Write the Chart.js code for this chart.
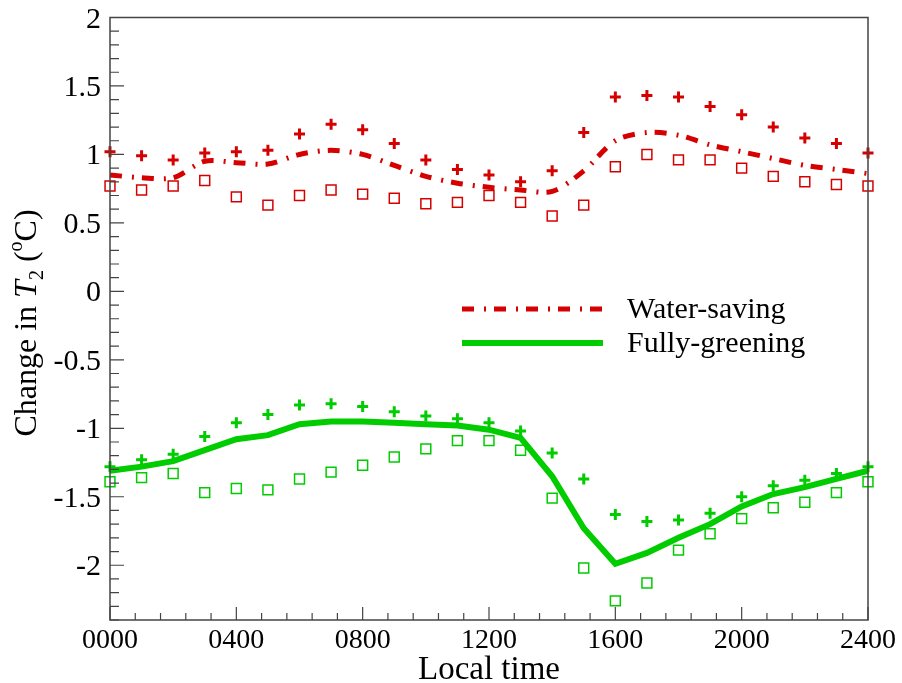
<!DOCTYPE html>
<html>
<head>
<meta charset="utf-8">
<script src="https://cdn.jsdelivr.net/npm/chart.js@4.4.1/dist/chart.umd.min.js"></script>
<style>
	body { margin: 0; background: #fff; }
	canvas { display: block; }
</style>
</head>
<body>
<canvas id="chart" width="902" height="683"></canvas>
<script>
// hourly output, local time
const hours = [0, 100, 200, 300, 400, 500, 600, 700, 800, 900, 1000, 1100, 1200,
	1300, 1400, 1500, 1600, 1700, 1800, 1900, 2000, 2100, 2200, 2300, 2400];

// water-saving scenario (mean line, upper and lower runs)
const waterMean = [0.85, 0.83, 0.83, 0.95, 0.94, 0.93, 1.00, 1.03, 1.00, 0.92, 0.84, 0.79, 0.76,
	0.74, 0.73, 0.88, 1.10, 1.16, 1.14, 1.07, 1.02, 0.97, 0.92, 0.89, 0.86];
const waterPlus = [1.02, 0.99, 0.96, 1.01, 1.02, 1.03, 1.15, 1.22, 1.18, 1.08, 0.96, 0.89, 0.85,
	0.80, 0.88, 1.16, 1.42, 1.43, 1.42, 1.35, 1.29, 1.20, 1.12, 1.08, 1.01];
const waterSquare = [0.77, 0.74, 0.77, 0.81, 0.69, 0.63, 0.70, 0.74, 0.71, 0.68, 0.64, 0.65, 0.70,
	0.65, 0.55, 0.63, 0.91, 1.00, 0.96, 0.96, 0.90, 0.84, 0.80, 0.78, 0.77];

// fully-greening scenario
const greenMean = [-1.31, -1.28, -1.24, -1.16, -1.08, -1.05, -0.97, -0.95, -0.95, -0.96, -0.97, -0.98, -1.01,
	-1.07, -1.35, -1.73, -1.99, -1.91, -1.80, -1.70, -1.57, -1.48, -1.43, -1.37, -1.31];
const greenPlus = [-1.28, -1.23, -1.19, -1.06, -0.96, -0.90, -0.83, -0.82, -0.84, -0.88, -0.91, -0.93, -0.96,
	-1.02, -1.18, -1.37, -1.63, -1.68, -1.67, -1.62, -1.50, -1.42, -1.38, -1.33, -1.28];
const greenSquare = [-1.39, -1.36, -1.33, -1.47, -1.44, -1.45, -1.37, -1.32, -1.27, -1.21, -1.15, -1.09, -1.09,
	-1.16, -1.51, -2.02, -2.26, -2.13, -1.89, -1.77, -1.66, -1.58, -1.54, -1.47, -1.39];

const xTicks = [0, 400, 800, 1200, 1600, 2000, 2400];
const xTickLabels = ['0000', '0400', '0800', '1200', '1600', '2000', '2400'];
const yTicks = [2, 1.5, 1, 0.5, 0, -0.5, -1, -1.5, -2];
const yTickLabels = ['2', '1.5', '1', '0.5', '0', '-0.5', '-1', '-1.5', '-2'];

const RED = '#d50000';
const GREEN = '#00cc00';
const SERIF = '"Liberation Serif", "Times New Roman", serif';

function pts(values) {
	return values.map((v, i) => ({x: hours[i], y: v}));
}

// frame with inward ticks, tick labels, titles and legend
const frame = {
	id: 'frame',
	afterDraw(chart) {
		const ctx = chart.ctx;
		const xs = chart.scales.x;
		const ys = chart.scales.y;
		const a = chart.chartArea;

		ctx.save();
		ctx.strokeStyle = '#444';
		ctx.lineWidth = 1.5;
		ctx.strokeRect(a.left, a.top, a.right - a.left, a.bottom - a.top);

		// y ticks every 0.1, major every 0.5
		ctx.lineWidth = 1.2;
		ctx.beginPath();
		for(let k = -24; k <= 20; k++)
		{
			const py = ys.getPixelForValue(k / 10);
			const len = (k % 5 === 0) ? 14 : 9;
			ctx.moveTo(a.left, py);
			ctx.lineTo(a.left + len, py);
		}
		// x ticks every 80, major every 400
		for(let v = 0; v <= 2400; v += 80)
		{
			const px = xs.getPixelForValue(v);
			const len = (v % 400 === 0) ? 13 : 7;
			ctx.moveTo(px, a.bottom);
			ctx.lineTo(px, a.bottom - len);
		}
		ctx.stroke();

		ctx.fillStyle = '#000';
		ctx.font = '30px ' + SERIF;
		ctx.textAlign = 'right';
		ctx.textBaseline = 'alphabetic';
		yTicks.forEach((v, i) => {
			ctx.fillText(yTickLabels[i], a.left - 9, ys.getPixelForValue(v) + 10);
		});
		ctx.font = '28px ' + SERIF;
		ctx.textAlign = 'center';
		xTicks.forEach((v, i) => {
			ctx.fillText(xTickLabels[i], xs.getPixelForValue(v), 648);
		});

		// x title
		ctx.font = '33px ' + SERIF;
		ctx.fillText('Local time', (a.left + a.right) / 2, 679);

		// y title: Change in T2 (oC)
		const parts = [
			{t: 'Change in ', f: '32px ' + SERIF, dy: 0},
			{t: 'T', f: 'italic 32px ' + SERIF, dy: 0},
			{t: '2', f: '20px ' + SERIF, dy: 7},
			{t: ' (', f: '32px ' + SERIF, dy: 0},
			{t: 'o', f: '20px ' + SERIF, dy: -14},
			{t: 'C)', f: '32px ' + SERIF, dy: 0},
		];
		let total = 0;
		parts.forEach(p => {
			ctx.font = p.f;
			p.w = ctx.measureText(p.t).width;
			total += p.w;
		});
		ctx.translate(36, 323);
		ctx.rotate(-Math.PI / 2);
		ctx.textAlign = 'left';
		let cx = -total / 2;
		parts.forEach(p => {
			ctx.font = p.f;
			ctx.fillText(p.t, cx, p.dy);
			cx += p.w;
		});
		ctx.restore();

		// legend
		ctx.save();
		ctx.lineCap = 'butt';
		ctx.strokeStyle = RED;
		ctx.lineWidth = 5;
		ctx.setLineDash([12, 10, 2, 8]);
		ctx.beginPath();
		ctx.moveTo(462, 309);
		ctx.lineTo(602, 309);
		ctx.stroke();
		ctx.setLineDash([]);
		ctx.strokeStyle = GREEN;
		ctx.lineWidth = 6;
		ctx.beginPath();
		ctx.moveTo(462, 343);
		ctx.lineTo(603, 343);
		ctx.stroke();
		ctx.fillStyle = '#000';
		ctx.font = '30px ' + SERIF;
		ctx.textAlign = 'left';
		ctx.fillText('Water-saving', 627, 318);
		ctx.fillText('Fully-greening', 627, 352);
		ctx.restore();
	}
};

const markerSet = (data, color, style) => ({
	type: 'line',
	data: pts(data),
	showLine: false,
	pointStyle: style,
	pointRadius: style === 'cross' ? 5.5 : 7,
	pointBorderWidth: style === 'cross' ? 3 : 1.5,
	pointBorderColor: color,
	pointBackgroundColor: 'rgba(0,0,0,0)',
	borderColor: color,
	clip: false,
});

new Chart(document.getElementById('chart'), {
	type: 'line',
	data: {
		datasets: [
			{
				label: 'Water-saving',
				data: pts(waterMean),
				borderColor: RED,
				borderWidth: 5,
				borderDash: [12, 10, 2, 8],
				borderCapStyle: 'butt',
				pointRadius: 0,
				tension: 0.3,
				clip: false,
			},
			markerSet(waterPlus, RED, 'cross'),
			markerSet(waterSquare, RED, 'rect'),
			{
				label: 'Fully-greening',
				data: pts(greenMean),
				borderColor: GREEN,
				borderWidth: 6,
				pointRadius: 0,
				tension: 0,
				clip: false,
			},
			markerSet(greenPlus, GREEN, 'cross'),
			markerSet(greenSquare, GREEN, 'rect'),
		],
	},
	options: {
		responsive: false,
		animation: false,
		layout: {
			padding: {left: 110, right: 34, top: 17.5, bottom: 63},
		},
		scales: {
			x: {
				type: 'linear',
				min: 0,
				max: 2400,
				display: false,
			},
			y: {
				type: 'linear',
				min: -2.4,
				max: 2,
				display: false,
			},
		},
		plugins: {
			legend: {display: false},
			tooltip: {enabled: false},
		},
	},
	plugins: [frame],
});
</script>
</body>
</html>
